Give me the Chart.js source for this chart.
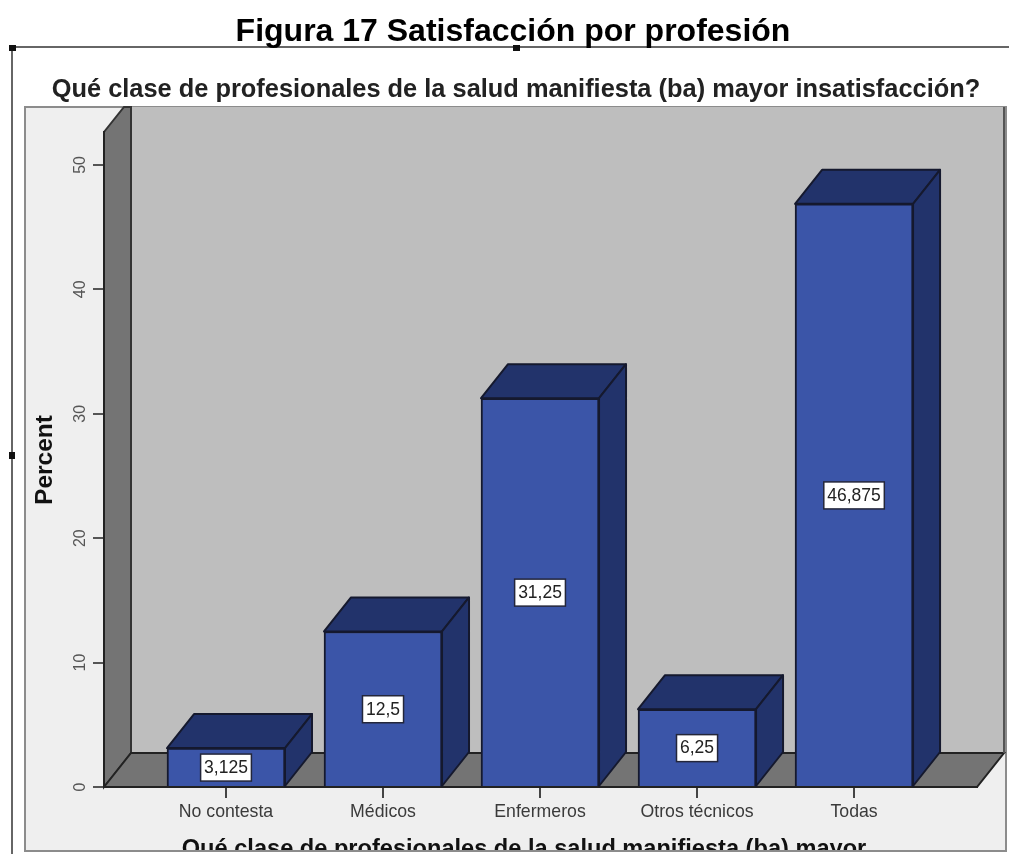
<!DOCTYPE html>
<html>
<head>
<meta charset="utf-8">
<style>
  html, body { margin: 0; padding: 0; background: #fff; }
  #wrap { width: 1009px; height: 854px; position: relative; }
</style>
<script src="https://cdn.jsdelivr.net/npm/chart.js@4"></script>
</head>
<body>
<div id="wrap"><canvas id="c" width="1009" height="854"></canvas></div>
<script>
const categories = ["No contesta", "Médicos", "Enfermeros", "Otros técnicos", "Todas"];
const percents = [3.125, 12.5, 31.25, 6.25, 46.875];
const valueLabels = ["3,125", "12,5", "31,25", "6,25", "46,875"];
const yTicks = [0, 10, 20, 30, 40, 50];
const figureTitle = "Figura 17 Satisfacción por profesión";
const chartTitle = "Qué clase de profesionales de la salud manifiesta (ba) mayor insatisfacción?";
const xTitle = "Qué clase de profesionales de la salud manifiesta (ba) mayor";
const yTitle = "Percent";

const DEPTH_X = 27, DEPTH_Y = 34;
const COL = {
  panel: "#efefef", wall: "#bebebe", floor: "#747474",
  front: "#3b55a8", dark: "#22336b", edge: "#15192e"
};

function poly(ctx, pts, fill, stroke, lw) {
  ctx.beginPath();
  pts.forEach((p, i) => i ? ctx.lineTo(p[0], p[1]) : ctx.moveTo(p[0], p[1]));
  ctx.closePath();
  if (fill) { ctx.fillStyle = fill; ctx.fill(); }
  if (stroke) { ctx.strokeStyle = stroke; ctx.lineWidth = lw || 2; ctx.stroke(); }
}

// Page frame, grey panel and the box the bars stand in.
const backdrop = {
  id: "backdrop",
  beforeDraw(chart) {
    const { ctx, chartArea: a } = chart;
    const top = 107;
    ctx.save();
    ctx.fillStyle = "#fff";
    ctx.fillRect(0, 0, chart.width, chart.height);

    ctx.strokeStyle = "#666";
    ctx.lineWidth = 2;
    ctx.beginPath();
    ctx.moveTo(12, 854); ctx.lineTo(12, 47); ctx.lineTo(1009, 47);
    ctx.stroke();
    ctx.fillStyle = "#111";
    ctx.fillRect(9, 45, 7, 6);
    ctx.fillRect(513, 45, 7, 6);
    ctx.fillRect(9, 452, 6, 7);

    ctx.fillStyle = COL.panel;
    ctx.fillRect(25, top, 981, 744);
    ctx.strokeStyle = "#8c8c8c";
    ctx.lineWidth = 2;
    ctx.strokeRect(25, top, 981, 744);

    const bx = a.left + DEPTH_X, by = a.bottom - DEPTH_Y, rx = a.right + DEPTH_X;
    poly(ctx, [[bx, top], [rx, top], [rx, by], [bx, by]], COL.wall);
    poly(ctx, [[a.left, a.bottom], [a.left, a.top], [a.left + 20, top], [bx, top], [bx, by]], COL.floor, "#333", 2);
    poly(ctx, [[a.left, a.bottom], [bx, by], [rx, by], [a.right, a.bottom]], COL.floor, "#222", 2);
    ctx.strokeStyle = "#555";
    ctx.beginPath(); ctx.moveTo(rx, top); ctx.lineTo(rx, by); ctx.stroke();
    ctx.restore();
  },
  // Top and side faces of every bar, behind the front faces.
  beforeDatasetsDraw(chart) {
    const { ctx } = chart;
    ctx.save();
    ctx.lineJoin = "round";
    chart.getDatasetMeta(0).data.forEach(bar => {
      const l = bar.x - bar.width / 2, r = bar.x + bar.width / 2, t = bar.y, b = bar.base;
      poly(ctx, [[l, t], [r, t], [r + DEPTH_X, t - DEPTH_Y], [l + DEPTH_X, t - DEPTH_Y]], COL.dark, COL.edge, 2);
      poly(ctx, [[r, t], [r + DEPTH_X, t - DEPTH_Y], [r + DEPTH_X, b - DEPTH_Y], [r, b]], COL.dark, COL.edge, 2);
    });
    ctx.restore();
  },
  // Boxed value labels and the text set outside the plot.
  afterDraw(chart) {
    const { ctx } = chart;
    ctx.save();
    ctx.textAlign = "center";
    ctx.textBaseline = "middle";
    ctx.font = '17.5px "Liberation Sans"';
    chart.getDatasetMeta(0).data.forEach((bar, i) => {
      const cy = (bar.y + bar.base) / 2;
      const w = ctx.measureText(valueLabels[i]).width + 7;
      ctx.fillStyle = "#fff";
      ctx.fillRect(bar.x - w / 2, cy - 13, w, 27);
      ctx.strokeStyle = "#23263a";
      ctx.lineWidth = 1.5;
      ctx.strokeRect(bar.x - w / 2, cy - 13, w, 27);
      ctx.fillStyle = "#222";
      ctx.fillText(valueLabels[i], bar.x, cy + 1);
    });

    ctx.textBaseline = "alphabetic";
    ctx.fillStyle = "#000";
    ctx.font = 'bold 32px "Liberation Sans"';
    ctx.fillText(figureTitle, 513, 41);
    ctx.fillStyle = "#222";
    ctx.font = 'bold 25.4px "Liberation Sans"';
    ctx.fillText(chartTitle, 516, 97);

    // Axis caption runs past the panel's lower edge and is cut there.
    ctx.save();
    ctx.beginPath();
    ctx.rect(25, 107, 981, 743);
    ctx.clip();
    ctx.fillStyle = "#111";
    ctx.font = 'bold 23.6px "Liberation Sans"';
    ctx.fillText(xTitle, 524, 856);
    ctx.restore();

    ctx.translate(51.5, 460);
    ctx.rotate(-Math.PI / 2);
    ctx.fillStyle = "#111";
    ctx.font = 'bold 24.5px "Liberation Sans"';
    ctx.fillText(yTitle, 0, 0);
    ctx.restore();
  }
};

new Chart(document.getElementById("c"), {
  type: "bar",
  data: {
    datasets: [{
      data: percents.map((v, i) => ({ x: i, y: v })),
      backgroundColor: COL.front,
      borderColor: COL.edge,
      borderWidth: 2,
      barThickness: 118
    }]
  },
  options: {
    responsive: false,
    animation: false,
    layout: { padding: { left: 25, right: 32, top: 132, bottom: 3 } },
    plugins: { legend: { display: false }, tooltip: { enabled: false } },
    scales: {
      x: {
        type: "linear",
        offset: false,
        min: -0.777,
        max: 4.783,
        afterBuildTicks(s) { s.ticks = categories.map((_, i) => ({ value: i })); },
        afterFit(s) { s.height = 64; },
        grid: { offset: false, drawOnChartArea: false, tickLength: 11, color: "#444", lineWidth: 2 },
        border: { color: "#222", width: 2 },
        ticks: {
          autoSkip: false, maxRotation: 0, padding: 3, color: "#3a3a3a",
          font: { family: "Liberation Sans", size: 17.7 },
          callback: v => categories[v]
        }
      },
      y: {
        min: 0,
        max: 52.65,
        afterBuildTicks(s) { s.ticks = yTicks.map(v => ({ value: v })); },
        afterFit(s) { s.width = 79; },
        grid: { drawOnChartArea: false, tickLength: 11, color: "#555", lineWidth: 2 },
        border: { color: "#222", width: 2 },
        ticks: {
          minRotation: 90, maxRotation: 90, crossAlign: "center", padding: 4, color: "#555",
          font: { family: "Liberation Sans", size: 16 }
        }
      }
    }
  },
  plugins: [backdrop]
});
</script>
</body>
</html>
